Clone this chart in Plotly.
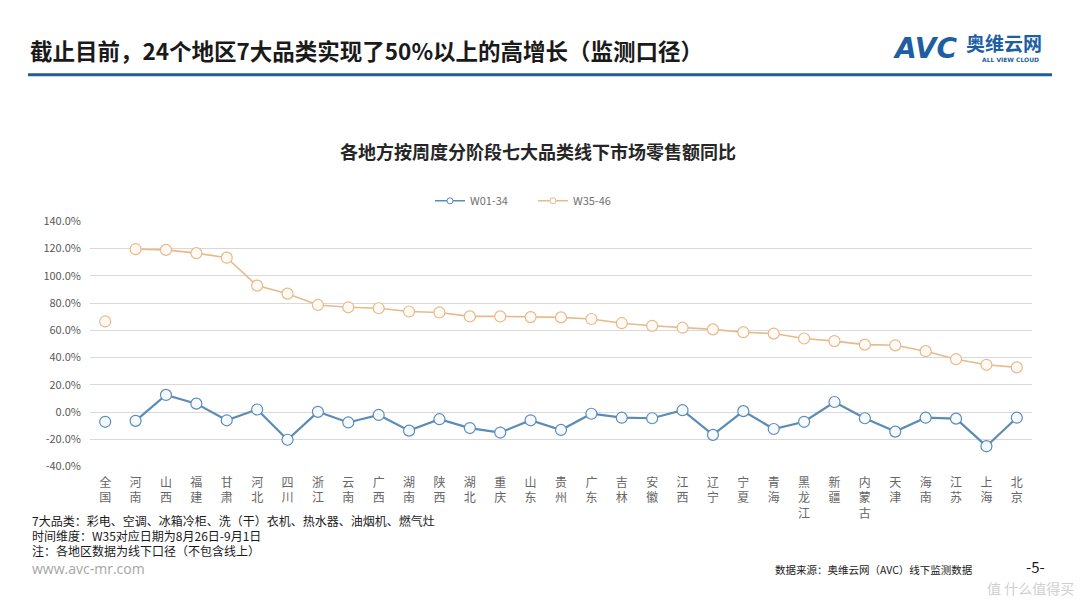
import plotly.graph_objects as go

regions = ["全国", "河南", "山西", "福建", "甘肃", "河北", "四川", "浙江", "云南", "广西",
           "湖南", "陕西", "湖北", "重庆", "山东", "贵州", "广东", "吉林", "安徽", "江西",
           "辽宁", "宁夏", "青海", "黑龙江", "新疆", "内蒙古", "天津", "海南", "江苏", "上海", "北京"]
w01_34 = [-7.1, -6.4, 12.6, 6.2, -6.0, 1.9, -20.3, 0.2, -7.6, -2.1,
          -13.6, -5.2, -11.7, -15.0, -6.0, -13.1, -1.2, -4.1, -4.5, 1.4,
          -16.7, 0.7, -12.4, -7.1, 7.4, -4.5, -14.3, -4.1, -4.8, -25.0, -4.1]
w35_46 = [66.5, 119.5, 119.0, 116.6, 113.3, 92.8, 86.9, 78.6, 76.9, 76.2,
          73.8, 73.1, 70.2, 70.2, 69.7, 69.5, 68.3, 65.2, 63.3, 61.9,
          60.7, 58.6, 57.6, 54.0, 52.1, 49.5, 49.0, 44.7, 38.8, 34.7, 32.8]
series_names = ["W01-34", "W35-46"]
y_ticks = [-40, -20, 0, 20, 40, 60, 80, 100, 120, 140]
y_ticktext = [f"{v:.1f}%" for v in y_ticks]

BLUE = "#5b8cb8"
ORANGE = "#e8b98c"
FONT = "Noto Sans CJK SC"

W, H = 1080, 608
def px(x):
    return x / W
def py(y):
    return 1 - y / H

fig = go.Figure()

for name, vals, col, fill, lw in [
    (series_names[0], w01_34, BLUE, "#f7fafd", 2.2),
    (series_names[1], w35_46, ORANGE, "#fffaf4", 1.6),
]:
    # national value shown standalone (not connected)
    fig.add_trace(go.Scatter(
        x=regions[:1], y=vals[:1], mode="markers", showlegend=False,
        marker=dict(size=11, color=fill, line=dict(color=col, width=1.2)),
        hoverinfo="skip"))
    fig.add_trace(go.Scatter(
        x=regions[1:], y=vals[1:], mode="lines+markers", name=name, showlegend=False,
        line=dict(color=col, width=lw),
        marker=dict(size=11, color=fill, line=dict(color=col, width=1.2))))
    # legend entry with small marker
    fig.add_trace(go.Scatter(
        x=[None], y=[None], mode="lines+markers", name=name, showlegend=True,
        line=dict(color=col, width=1.5),
        marker=dict(size=6, color="white", line=dict(color=col, width=1))))

ticktext = ["<br>".join(list(r)) for r in regions]

fig.update_layout(
    width=W, height=H,
    margin=dict(l=0, r=0, t=0, b=0),
    paper_bgcolor="white", plot_bgcolor="white",
    font=dict(family=FONT, color="#595959"),
    showlegend=True,
    legend=dict(orientation="h", x=px(430), xanchor="left", y=py(197), yanchor="middle",
                font=dict(size=11, color="#707070"), entrywidth=58, itemwidth=30,
                bgcolor="rgba(0,0,0,0)"),
    xaxis=dict(domain=[px(90), px(1032)], type="category", range=[-0.5, 30.5],
               tickmode="array", tickvals=regions, ticktext=ticktext,
               tickfont=dict(size=12, color="#666666"), showgrid=False,
               showline=False, ticks="", zeroline=False, tickangle=0,
               ticklabelstandoff=7),
    yaxis=dict(domain=[py(470), py(218)], range=[-40, 140],
               tickmode="array", tickvals=y_ticks, ticktext=y_ticktext,
               tickfont=dict(size=11, color="#595959"),
               showgrid=True, gridcolor="#d9d9d9", gridwidth=1,
               zeroline=False, showline=False, ticks="", ticklabelstandoff=8),
)

# header rule
fig.add_shape(type="line", xref="paper", yref="paper",
              x0=px(28), x1=px(1052), y0=py(67.5), y1=py(67.5),
              line=dict(color="#1f5c99", width=3))

ann = []
ann.append(dict(text="<b>截止目前，24个地区7大品类实现了50%以上的高增长（监测口径）</b>",
                x=px(28), y=py(42), xanchor="left", yanchor="middle",
                font=dict(size=22.5, color="#1a1a1a", family=FONT)))
# logo
ann.append(dict(text="<b><i>AVC</i></b>", x=px(891), y=py(41), xanchor="left", yanchor="middle",
                font=dict(size=28, color="#1d5fa3", family="DejaVu Sans")))
ann.append(dict(text="<b>奥维云网</b>", x=px(964), y=py(34), xanchor="left", yanchor="middle",
                font=dict(size=19, color="#1d5fa3", family=FONT)))
ann.append(dict(text="<b>ALL VIEW CLOUD</b>", x=px(980), y=py(52), xanchor="left", yanchor="middle",
                font=dict(size=6, color="#1d5fa3", family="DejaVu Sans")))
# chart title
ann.append(dict(text="<b>各地方按周度分阶段七大品类线下市场零售额同比</b>",
                x=px(538), y=py(146), xanchor="center", yanchor="middle",
                font=dict(size=18, color="#262626", family=FONT)))
# footnotes
notes = ["7大品类：彩电、空调、冰箱冷柜、洗（干）衣机、热水器、油烟机、燃气灶",
         "时间维度：W35对应日期为8月26日-9月1日",
         "注：各地区数据为线下口径（不包含线上）"]
for i, t in enumerate(notes):
    ann.append(dict(text=t, x=px(30), y=py(525 + 15.5 * i), xanchor="left", yanchor="middle",
                    font=dict(size=12, color="#1a1a1a", family=FONT)))
ann.append(dict(text="www.avc-mr.com", x=px(30), y=py(575), xanchor="left", yanchor="middle",
                font=dict(size=14, color="#a6a6a6", family="Open Sans")))
ann.append(dict(text="数据来源：奥维云网（AVC）线下监测数据", x=px(975), y=py(576), xanchor="right",
                yanchor="middle", font=dict(size=10.5, color="#1a1a1a", family=FONT)))
ann.append(dict(text="-5-", x=px(1035), y=py(573), xanchor="center", yanchor="middle",
                font=dict(size=15, color="#1a1a1a", family=FONT)))
ann.append(dict(text="值 什么值得买", x=px(1076), y=py(595), xanchor="right", yanchor="middle",
                font=dict(size=14, color="#cfcfcf", family=FONT)))

for a in ann:
    a.update(xref="paper", yref="paper", showarrow=False)
fig.update_layout(annotations=ann)

fig.write_html("out.html")
